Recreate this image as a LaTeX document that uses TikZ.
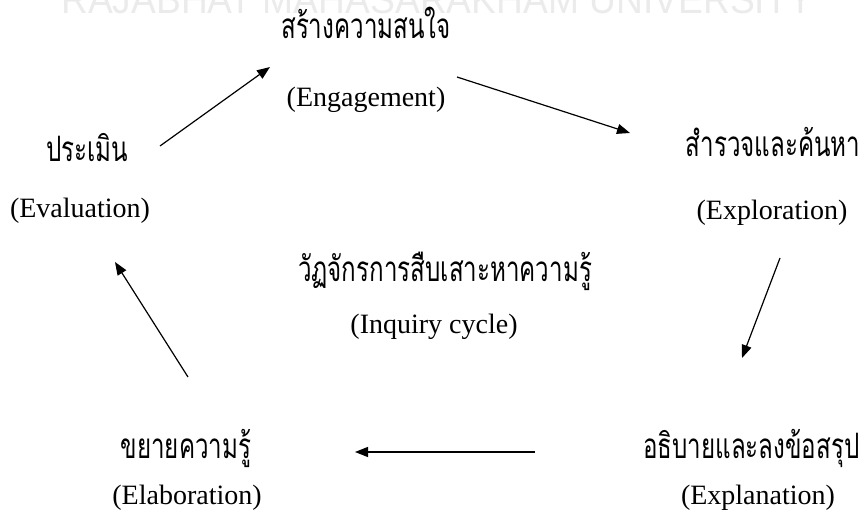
\documentclass[tikz,border=0pt]{standalone}
\usepackage{fontspec}
\setmainfont{Liberation Serif}
\newfontfamily\thaifont[Script=Thai,FakeStretch=0.69]{Loma}
\newfontfamily\markfont{Liberation Sans}
\usetikzlibrary{arrows.meta}

\begin{document}
\begin{tikzpicture}[x=1pt,y=-1pt,>={Triangle[length=13pt,width=10pt]},
                    line width=1.2pt]

  \tikzset{th/.style = {anchor=base, inner sep=0pt,
                        font=\thaifont\fontsize{35}{42}\selectfont},
           en/.style = {anchor=base, inner sep=0pt,
                        font=\fontsize{28}{33}\selectfont}}
  \useasboundingbox (0,0) rectangle (863,513);
  \clip (0,0) rectangle (863,513);

  % watermark
  \node[anchor=base, inner sep=0pt, text=black!8, xscale=0.93,
        font=\markfont\fontsize{40}{40}\selectfont] (WM) at (437,14)
        {RAJABHAT MAHASARAKHAM UNIVERSITY};

  \node[th] (EngT) at (366,39)  {สร้างความสนใจ};
  \node[en] (EngE) at (366,107) {(Engagement)};
  \node[th, anchor=base east] (ExpT) at (861,157) {สำรวจและค้นหา};
  \node[en] (ExpE) at (772,220) {(Exploration)};
  \node[th, anchor=base east] (ExlT) at (860,458) {อธิบายและลงข้อสรุป};
  \node[en] (ExlE) at (758,504) {(Explanation)};
  \node[th] (ElbT) at (186,458) {ขยายความรู้};
  \node[en] (ElbE) at (187,504) {(Elaboration)};
  \node[th] (EvlT) at (87,162)  {ประเมิน};
  \node[en] (EvlE) at (80,218)  {(Evaluation)};
  \node[th] (CycT) at (445,282) {วัฏจักรการสืบเสาะหาความรู้};
  \node[en] (CycE) at (434,334) {(Inquiry cycle)};

  \coordinate (a1) at (160,146); \coordinate (b1) at (270,67);
  \coordinate (a2) at (457,77);  \coordinate (b2) at (630,133);
  \coordinate (a3) at (780,258); \coordinate (b3) at (742,358);
  \coordinate (a4) at (535,452); \coordinate (b4) at (355,452);
  \coordinate (a5) at (188,377); \coordinate (b5) at (115,262);

  \path[->] (a1) edge (b1)
            (a2) edge (b2)
            (a3) edge (b3)
            (a4) edge (b4)
            (a5) edge (b5);
\end{tikzpicture}
\end{document}
